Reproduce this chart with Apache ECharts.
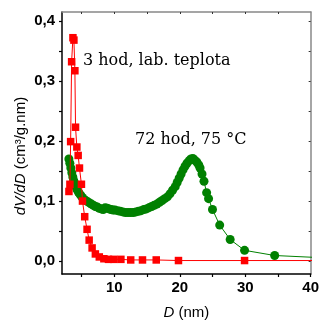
<!DOCTYPE html>
<html>
<head>
<meta charset="utf-8">
<script src="https://cdn.jsdelivr.net/npm/echarts@6/dist/echarts.min.js"></script>
<style>
  html, body { margin: 0; padding: 0; background: #fff; }
  #chart { width: 322px; height: 325px; }
</style>
</head>
<body>
<div id="chart"></div>
<script>
// 3 hod, lab. teplota (cervena)
const redD = [3.06, 3.21, 3.32, 3.47, 3.67, 3.82, 3.97, 4.07, 4.27, 4.47, 4.67, 4.97, 5.13, 5.47, 5.83, 6.15, 6.6, 7.1, 7.7, 8.4, 9.1, 9.9, 11.0, 12.5, 14.3, 16.4, 19.8, 29.9, 50];
const redV = [0.116, 0.128, 0.199, 0.332, 0.372, 0.368, 0.317, 0.223, 0.19, 0.176, 0.155, 0.128, 0.10, 0.074, 0.053, 0.035, 0.022, 0.012, 0.007, 0.004, 0.003, 0.003, 0.003, 0.002, 0.002, 0.002, 0.001, 0.001, 0.001];

// 72 hod, 75 °C (zelena)
const greenD = [3.05, 3.2, 3.35, 3.5, 3.65, 3.8, 3.95, 4.1, 4.3, 4.5, 4.7, 4.9, 5.1, 5.35, 5.6, 5.9, 6.2, 6.5, 6.8, 7.1, 7.4, 7.7, 8.0, 8.3, 8.6, 8.9, 9.2, 9.5, 9.8, 10.1, 10.5, 10.9, 11.3, 11.7, 12.1, 12.5, 12.9, 13.3, 13.7, 14.1, 14.5, 14.9, 15.3, 15.7, 16.1, 16.5, 16.9, 17.3, 17.7, 18.1, 18.5, 18.9, 19.3, 19.6, 19.9, 20.2, 20.5, 20.8, 21.1, 21.4, 21.7, 22.0, 22.3, 22.6, 22.9, 23.1, 23.4, 23.7, 24.1, 24.4, 25.0, 26.1, 27.7, 29.9, 34.5, 45];
const greenV = [0.170, 0.163, 0.155, 0.147, 0.140, 0.134, 0.129, 0.124, 0.119, 0.115, 0.112, 0.109, 0.106, 0.103, 0.101, 0.099, 0.097, 0.095, 0.093, 0.091, 0.090, 0.088, 0.087, 0.086, 0.089, 0.088, 0.087, 0.086, 0.085, 0.085, 0.084, 0.083, 0.082, 0.081, 0.081, 0.081, 0.081, 0.082, 0.083, 0.084, 0.086, 0.087, 0.089, 0.091, 0.093, 0.095, 0.098, 0.101, 0.104, 0.107, 0.112, 0.118, 0.124, 0.131, 0.138, 0.145, 0.152, 0.158, 0.163, 0.167, 0.170, 0.171, 0.168, 0.165, 0.160, 0.155, 0.145, 0.133, 0.114, 0.104, 0.086, 0.060, 0.036, 0.018, 0.0094, 0.004];

// popisky os
const xTicks = [5, 10, 15, 20, 25, 30, 35, 40];
const xLabels = [10, 20, 30, 40];
const xTopTicks = [5, 10, 15, 20, 25, 30, 35];
const yTicks = [0, 0.05, 0.1, 0.15, 0.2, 0.25, 0.3, 0.35, 0.4];
const yLabels = [0, 0.1, 0.2, 0.3, 0.4];

function pairs(xs, ys) {
  let arr = [];
  xs.map((x, i) => {
    arr.push([x, ys[i]]);
  });
  return arr;
}

const sans = '"Liberation Sans", Arial, sans-serif';
const serif = '"DejaVu Serif", serif';

const chart = echarts.init(document.getElementById('chart'), null, { renderer: 'canvas' });

let option = {
  animation: false,
  backgroundColor: '#fff',
  grid: { left: 62, top: 12, right: 9, bottom: 48, containLabel: false },
  xAxis: [{
    type: 'value',
    position: 'bottom',
    min: 2,
    max: 40,
    name: '{i|D} (nm)',
    nameLocation: 'middle',
    nameGap: 31,
    nameTextStyle: {
      fontFamily: sans, fontSize: 15, color: '#000',
      rich: { i: { fontFamily: sans, fontSize: 15, fontStyle: 'italic', color: '#000' } }
    },
    splitLine: { show: false },
    axisLine: { show: true, onZero: false, lineStyle: { color: '#000', width: 1.5 } },
    axisTick: { show: true, inside: false, length: 3, customValues: xTicks, lineStyle: { color: '#000', width: 1.2 } },
    axisLabel: {
      customValues: xLabels, margin: 6,
      fontFamily: sans, fontSize: 15, fontWeight: 'bold', color: '#000'
    }
  }, {
    type: 'value',
    position: 'top',
    min: 2,
    max: 40,
    splitLine: { show: false },
    axisLine: { show: true, onZero: false, lineStyle: { color: '#888', width: 1.5 } },
    axisTick: { show: true, inside: true, length: 2, customValues: xTopTicks, lineStyle: { color: '#333', width: 1 } },
    axisLabel: { show: false }
  }],
  yAxis: [{
    type: 'value',
    position: 'left',
    min: -0.0214,
    max: 0.4148,
    splitLine: { show: false },
    axisLine: { show: true, onZero: false, lineStyle: { color: '#000', width: 1.5 } },
    axisTick: { show: true, inside: false, length: 3, customValues: yTicks, lineStyle: { color: '#000', width: 1.2 } },
    axisLabel: {
      customValues: yLabels, margin: 7,
      fontFamily: sans, fontSize: 15, fontWeight: 'bold', color: '#000',
      formatter: function (value) {
        return value.toFixed(1).replace('.', ',');
      }
    }
  }, {
    type: 'value',
    position: 'right',
    min: -0.0214,
    max: 0.4148,
    splitLine: { show: false },
    axisLine: { show: true, onZero: false, lineStyle: { color: '#888', width: 1.5 } },
    axisTick: { show: true, inside: true, length: 2, customValues: yTicks, lineStyle: { color: '#333', width: 1 } },
    axisLabel: { show: false }
  }],
  graphic: [{
    type: 'text',
    x: 21,
    y: 156,
    rotation: Math.PI / 2,
    style: {
      text: '{i|dV/dD} (cm³/g.nm)',
      fontFamily: sans, fontSize: 15, fill: '#000',
      align: 'center', verticalAlign: 'middle',
      rich: { i: { fontFamily: sans, fontSize: 15, fontStyle: 'italic', fill: '#000' } }
    }
  }, {
    type: 'text',
    x: 83,
    y: 61,
    style: {
      text: '3 hod, lab. teplota',
      fontFamily: serif, fontSize: 16, fill: '#000',
      align: 'left', verticalAlign: 'middle'
    }
  }, {
    type: 'text',
    x: 135,
    y: 140,
    style: {
      text: '72 hod, 75 °C',
      fontFamily: serif, fontSize: 16, fill: '#000',
      align: 'left', verticalAlign: 'middle'
    }
  }],
  series: [{
    name: '72 hod, 75 °C',
    type: 'line',
    xAxisIndex: 0,
    yAxisIndex: 0,
    data: pairs(greenD, greenV),
    symbol: 'circle',
    symbolSize: 9,
    showSymbol: true,
    showAllSymbol: true,
    clip: true,
    itemStyle: { color: '#008000', borderWidth: 0 },
    lineStyle: { color: '#008000', width: 1 },
    z: 2
  }, {
    name: '3 hod, lab. teplota',
    type: 'line',
    xAxisIndex: 0,
    yAxisIndex: 0,
    data: pairs(redD, redV),
    symbol: 'rect',
    symbolSize: 7.5,
    showSymbol: true,
    showAllSymbol: true,
    clip: true,
    itemStyle: { color: '#ff0000', borderWidth: 0 },
    lineStyle: { color: '#ff0000', width: 1 },
    z: 3
  }]
};

chart.setOption(option);
</script>
</body>
</html>
